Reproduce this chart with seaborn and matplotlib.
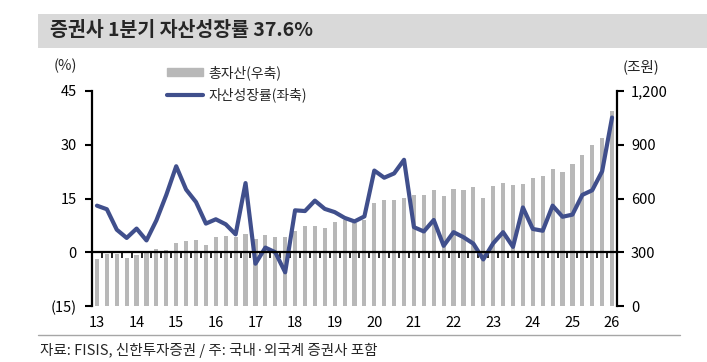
import numpy as np
import pandas as pd
import matplotlib
matplotlib.use('Agg')
import matplotlib.pyplot as plt
import seaborn as sns
from matplotlib.patches import Rectangle
from matplotlib.lines import Line2D
from matplotlib.ticker import FixedLocator, FuncFormatter

# quarterly data, 13Q1 ~ 26Q1
quarters = [f'{y}Q{q}' for y in range(13, 26) for q in range(1, 5)] + ['26Q1']
year_labels = [str(y) for y in range(13, 27)]

# 총자산 (조원, right axis)
assets = [265, 290, 290, 268, 283, 305, 320, 315, 352, 363, 367, 339,
          385, 389, 385, 404, 374, 394, 385, 385, 418, 444, 444, 433,
          467, 478, 463, 481, 574, 589, 593, 604, 617, 622, 648, 615,
          652, 648, 663, 604, 672, 685, 676, 680, 717, 728, 765, 750,
          793, 843, 898, 937, 1089]

# 자산성장률 (%, left axis)
growth = [13.0, 12.0, 6.3, 4.0, 6.6, 3.3, 8.9, 16.0, 24.0, 17.5, 14.0, 8.0,
          9.2, 7.8, 5.0, 19.3, -3.2, 1.3, 0.0, -5.6, 11.7, 11.5, 14.4, 12.1,
          11.2, 9.6, 8.6, 10.0, 22.8, 20.8, 22.0, 25.8, 7.0, 5.8, 9.0, 1.8,
          5.6, 4.2, 2.4, -2.0, 2.5, 5.6, 1.5, 12.5, 6.5, 6.0, 13.0, 9.9,
          10.5, 16.0, 17.3, 22.6, 37.6]

bar_color = '#b8b8b8'
line_color = '#404f8c'

sns.set_theme(style='white')
plt.rcParams['font.family'] = ['Noto Sans CJK KR', 'DejaVu Sans']
plt.rcParams['axes.unicode_minus'] = False

df = pd.DataFrame({'q': quarters, 'assets': assets, 'growth': growth})
df['pos'] = np.arange(len(df))

fig = plt.figure(figsize=(7.07, 3.62), dpi=100)
ax = fig.add_axes([92 / 707, 1 - 306 / 362, 525 / 707, 215 / 362])
ax2 = ax.twinx()

# bars on right axis
sns.barplot(data=df, x='pos', y='assets', ax=ax2, color=bar_color,
            saturation=1, width=0.42, linewidth=0)
# line on left axis, drawn above bars
sns.lineplot(data=df, x='pos', y='growth', ax=ax, color=line_color,
             linewidth=3.0, solid_joinstyle='round', solid_capstyle='round')
ax.set_zorder(ax2.get_zorder() + 1)
ax.patch.set_visible(False)

ax.set_xlabel('')
ax.set_ylabel('')
ax2.set_xlabel('')
ax2.set_ylabel('')

# left axis
ax.set_ylim(-15, 45)
ax.yaxis.set_major_locator(FixedLocator([-15, 0, 15, 30, 45]))
ax.yaxis.set_major_formatter(FuncFormatter(
    lambda v, p: f'({abs(int(v))})' if v < 0 else f'{int(v)}'))
ax.tick_params(axis='y', direction='out', length=5, width=1.5, pad=6,
               labelsize=10.5, colors='black')

# right axis
ax2.set_ylim(0, 1200)
ax2.yaxis.set_major_locator(FixedLocator([0, 300, 600, 900, 1200]))
ax2.yaxis.set_major_formatter(FuncFormatter(lambda v, p: f'{int(v):,}'))
ax2.tick_params(axis='y', direction='out', length=5, width=1.5, pad=5,
                labelsize=10.5, colors='black')

# x axis at zero line
ax.set_xlim(-0.5, len(df) - 0.5)
ax.xaxis.set_major_locator(FixedLocator(np.arange(0, len(df), 4)))
ax.xaxis.set_major_formatter(FuncFormatter(
    lambda v, p: year_labels[int(round(v)) // 4]))
ax.xaxis.set_minor_locator(FixedLocator(np.arange(-0.5, len(df), 1)))
ax.tick_params(axis='x', which='major', length=0, pad=46, labelsize=10.5,
               colors='black')
ax.tick_params(axis='x', which='minor', length=4, width=1.2,
               direction='out', colors='black', bottom=True)

for s in ['top', 'right']:
    ax.spines[s].set_visible(False)
ax.spines['bottom'].set_position(('data', 0))
ax.spines['bottom'].set_color('black')
ax.spines['bottom'].set_linewidth(1.6)
ax.spines['left'].set_color('black')
ax.spines['left'].set_linewidth(1.6)
for s in ['top', 'left', 'bottom']:
    ax2.spines[s].set_visible(False)
ax2.spines['right'].set_color('black')
ax2.spines['right'].set_linewidth(1.6)

# legend
handles = [Rectangle((0, 0), 1, 1, color=bar_color),
           Line2D([0], [0], color=line_color, lw=3.0)]
fig.legend(handles, ['총자산(우축)', '자산성장률(좌축)'], loc='upper left',
           bbox_to_anchor=(167 / 707, 1 - 65 / 362), frameon=False,
           fontsize=10, handlelength=2.6, handleheight=0.5,
           handletextpad=0.35, labelspacing=0.55, borderpad=0,
           borderaxespad=0)

# title bar
fig.add_artist(Rectangle((38 / 707, 1 - 47.5 / 362), 1 - 38 / 707, 33.5 / 362,
                         transform=fig.transFigure, facecolor='#d9d9d9',
                         edgecolor='none', zorder=0))
fig.text(50 / 707, 1 - 31 / 362, '증권사 1분기 자산성장률 37.6%',
         fontsize=14, fontweight='bold', va='center', ha='left')

fig.text(65 / 707, 1 - 66 / 362, '(%)', ha='center', va='center', fontsize=10.5)
fig.text(641 / 707, 1 - 67 / 362, '(조원)', ha='center', va='center',
         fontsize=10.5)

# source
fig.add_artist(Line2D([38 / 707, 680 / 707], [1 - 335 / 362] * 2,
                      transform=fig.transFigure, color='#a6a6a6', lw=1))
fig.text(40 / 707, 1 - 350 / 362,
         '자료: FISIS, 신한투자증권 / 주: 국내·외국계 증권사 포함',
         fontsize=10.5, va='center', ha='left')

fig.savefig('out.png', dpi=100)
